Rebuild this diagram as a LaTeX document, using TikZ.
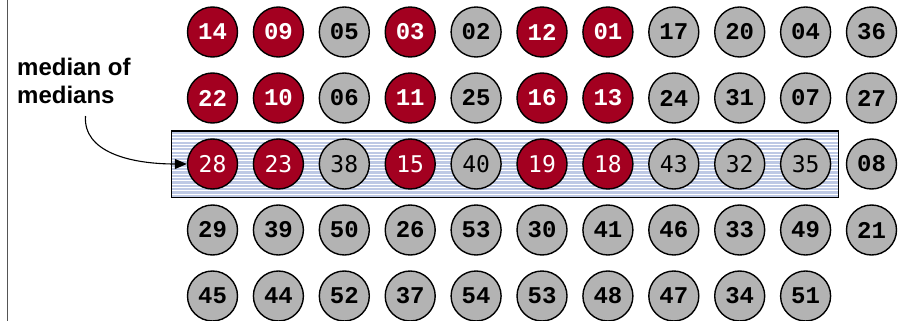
\documentclass[tikz,border=0pt]{standalone}
\usepackage{fontspec}
\setmainfont{Liberation Sans}
\newfontfamily\numfont{Liberation Mono}
\newfontfamily\dvmfont{DejaVu Sans Mono}
\usetikzlibrary{arrows.meta}
\definecolor{mred}{RGB}{163,0,32}
\definecolor{mgray}{RGB}{179,179,179}
\definecolor{mblue}{RGB}{190,201,229}
\definecolor{edgegray}{RGB}{85,85,85}
\begin{document}
\begin{tikzpicture}[x=1pt,y=-1pt,
  ball/.style={circle,draw=black,line width=1.4pt,minimum size=50pt,inner sep=0pt,
    font=\numfont\bfseries\fontsize{24}{24}\selectfont},
  redb/.style={ball,fill=mred,text=white},
  grayb/.style={ball,fill=mgray,text=black},
  redd/.style={redb,font=\dvmfont\fontsize{23}{23}\selectfont},
  grayd/.style={grayb,font=\dvmfont\fontsize{23}{23}\selectfont},
  lbl/.style={anchor=base west,inner sep=0pt,font=\bfseries\fontsize{24}{28}\selectfont}]
\useasboundingbox (0,0) rectangle (907,321);
% left edge line
\draw[line width=1.3pt, draw=edgegray] (7.5,0) -- (7.5,321);
% striped band
\fill[mblue] (171.5,131) rectangle (838.5,197.5);
\foreach \k in {1,...,19}
  \draw[white,line width=1.1pt] (172,{131+\k*3.325}) -- (838,{131+\k*3.325});
\draw[line width=1.4pt] (171.5,131) rectangle (838.5,197.5);
% balls
\foreach \s/\lab [count=\i] in {redb/14,redb/09,grayb/05,redb/03,grayb/02,redb/12,redb/01,grayb/17,grayb/20,grayb/04,grayb/36}
  \node[\s] (c1-\i) at ({212.5+(\i-1)*65.9},32) {\lab};
\foreach \s/\lab [count=\i] in {redb/22,redb/10,grayb/06,redb/11,grayb/25,redb/16,redb/13,grayb/24,grayb/31,grayb/07,grayb/27}
  \node[\s] (c2-\i) at ({212.5+(\i-1)*65.9},98) {\lab};
\foreach \s/\lab [count=\i] in {redd/28,redd/23,grayd/38,redd/15,grayd/40,redd/19,redd/18,grayd/43,grayd/32,grayd/35,grayb/08}
  \node[\s] (c3-\i) at ({212.5+(\i-1)*65.9},164) {\lab};
\foreach \s/\lab [count=\i] in {grayb/29,grayb/39,grayb/50,grayb/26,grayb/53,grayb/30,grayb/41,grayb/46,grayb/33,grayb/49,grayb/21}
  \node[\s] (c4-\i) at ({212.5+(\i-1)*65.9},230) {\lab};
\foreach \s/\lab [count=\i] in {grayb/45,grayb/44,grayb/52,grayb/37,grayb/54,grayb/53,grayb/48,grayb/47,grayb/34,grayb/51}
  \node[\s] (c5-\i) at ({212.5+(\i-1)*65.9},296) {\lab};
% label and arrow
\node[lbl] (lbl1) at (17,75) {median of};
\node[lbl] (lbl2) at (17,103) {medians};
\coordinate (arrowstart) at (85.5,116);
\draw[line width=1.1pt,-{Triangle[length=12pt,width=10pt]}]
  (arrowstart) .. controls (83,152) and (130,164) .. (c3-1.west);
\end{tikzpicture}
\end{document}
